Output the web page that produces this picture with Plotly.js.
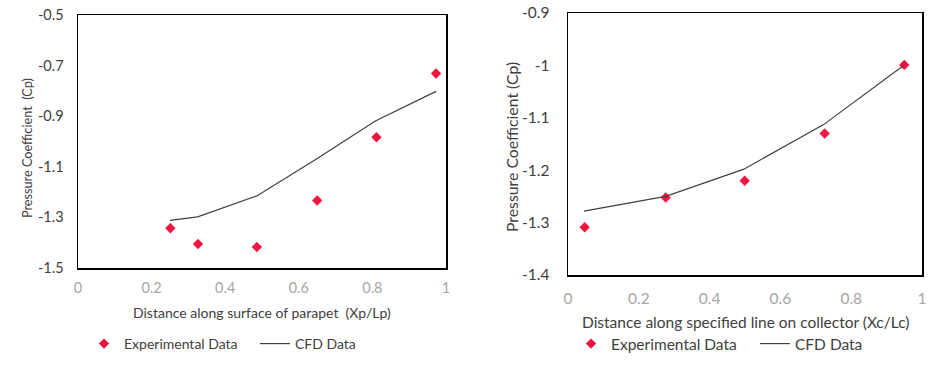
<!DOCTYPE html>
<html>
<head>
<meta charset="utf-8">
<script src="https://cdn.plot.ly/plotly-3.0.1.min.js"></script>
<style>html,body{margin:0;padding:0;background:#fff;}#chart{width:934px;height:370px;}</style>
</head>
<body>
<div id="chart"></div>
<script>
// Left chart: parapet
var parapetExpX = [0.251, 0.326, 0.486, 0.650, 0.811, 0.973];
var parapetExpY = [-1.343, -1.405, -1.417, -1.233, -0.983, -0.731];
var parapetCfdX = [0.250, 0.325, 0.486, 0.650, 0.808, 0.973];
var parapetCfdY = [-1.312, -1.298, -1.215, -1.067, -0.919, -0.802];
// Right chart: collector
var collectorExpX = [0.047, 0.276, 0.499, 0.725, 0.950];
var collectorExpY = [-1.309, -1.252, -1.220, -1.130, -0.999];
var collectorCfdX = [0.045, 0.276, 0.497, 0.722, 0.948];
var collectorCfdY = [-1.278, -1.250, -1.198, -1.113, -1.000];

var leftYTicks = [-1.5, -1.3, -1.1, -0.9, -0.7, -0.5];
var leftXTicks = [0, 0.2, 0.4, 0.6, 0.8, 1];
var rightYTicks = [-1.4, -1.3, -1.2, -1.1, -1, -0.9];
var rightXTicks = [0, 0.2, 0.4, 0.6, 0.8, 1];

var FONT = "Lato, 'Open Sans', sans-serif";
var red = "#f0163f";

var traces = [
  {x: parapetExpX, y: parapetExpY, type: "scatter", mode: "markers", name: "Experimental Data",
   marker: {symbol: "diamond", size: 8, color: red}, xaxis: "x", yaxis: "y", legend: "legend"},
  {x: parapetCfdX, y: parapetCfdY, type: "scatter", mode: "lines", name: "CFD Data",
   line: {color: "#404040", width: 1.2}, xaxis: "x", yaxis: "y", legend: "legend2"},
  {x: collectorExpX, y: collectorExpY, type: "scatter", mode: "markers", name: "Experimental Data",
   marker: {symbol: "diamond", size: 8, color: red}, xaxis: "x2", yaxis: "y2", legend: "legend3"},
  {x: collectorCfdX, y: collectorCfdY, type: "scatter", mode: "lines", name: "CFD Data",
   line: {color: "#404040", width: 1.2}, xaxis: "x2", yaxis: "y2", legend: "legend4"}
];

function xax(domain, ticks, anchor, standoff, fs) {
  return {domain: domain, range: [0, 1], tickvals: ticks, ticktext: ticks.map(String),
    showgrid: false, zeroline: false, showline: true, mirror: true, linecolor: "#000", linewidth: 1.5,
    ticks: "", ticklabelstandoff: standoff, tickfont: {family: FONT, size: fs, color: "#a6a6a6"}, anchor: anchor};
}
function yax(domain, range, ticks, anchor, standoff, fs) {
  return {domain: domain, range: range, tickvals: ticks, ticktext: ticks.map(String),
    showgrid: false, zeroline: false, showline: true, mirror: true, linecolor: "#000", linewidth: 1.5,
    ticks: "", ticklabelstandoff: standoff, tickfont: {family: FONT, size: fs, color: "#404040"}, anchor: anchor};
}
function leg(px, fs) {
  return {x: px/934, y: 1 - 344/370, xanchor: "left", yanchor: "middle",
    font: {family: FONT, size: fs, color: "#404040"}, bgcolor: "rgba(0,0,0,0)"};
}

var layout = {
  width: 934, height: 370,
  margin: {l: 0, r: 0, t: 0, b: 0},
  paper_bgcolor: "#fff", plot_bgcolor: "#fff",
  font: {family: FONT, size: 13, color: "#404040"},
  xaxis: xax([78/934, 446/934], leftXTicks, "y", 6, 14.5),
  yaxis: yax([1 - 268/370, 1 - 15/370], [-1.5, -0.5], leftYTicks, "x", 10, 14.5),
  xaxis2: xax([568/934, 922/934], rightXTicks, "y2", 9, 15.5),
  yaxis2: yax([1 - 275/370, 1 - 13/370], [-1.4, -0.9], rightYTicks, "x2", 14, 15.5),
  legend: leg(84, 14),
  legend2: leg(255, 14),
  legend3: leg(571, 15.5),
  legend4: leg(755, 15.5),
  annotations: [
    {text: "Distance along surface of parapet  (Xp/Lp)", xref: "paper", yref: "paper",
     x: 262/934, y: 1 - 312/370, xanchor: "center", yanchor: "middle", showarrow: false,
     font: {family: FONT, size: 14, color: "#404040"}},
    {text: "Distance along specified line on collector (Xc/Lc)", xref: "paper", yref: "paper",
     x: 745/934, y: 1 - 322/370, xanchor: "center", yanchor: "middle", showarrow: false,
     font: {family: FONT, size: 15.5, color: "#404040"}},
    {text: "Pressure Coefficient  (Cp)", xref: "paper", yref: "paper", textangle: -90,
     x: 27/934, y: 1 - 148/370, xanchor: "center", yanchor: "middle", showarrow: false,
     font: {family: FONT, size: 12.7, color: "#404040"}},
    {text: "Pressure Coefficient (Cp)", xref: "paper", yref: "paper", textangle: -90,
     x: 512/934, y: 1 - 147/370, xanchor: "center", yanchor: "middle", showarrow: false,
     font: {family: FONT, size: 15.8, color: "#404040"}}
  ],
  showlegend: true
};

Plotly.newPlot("chart", traces, layout, {displayModeBar: false, staticPlot: true});
</script>
</body>
</html>
